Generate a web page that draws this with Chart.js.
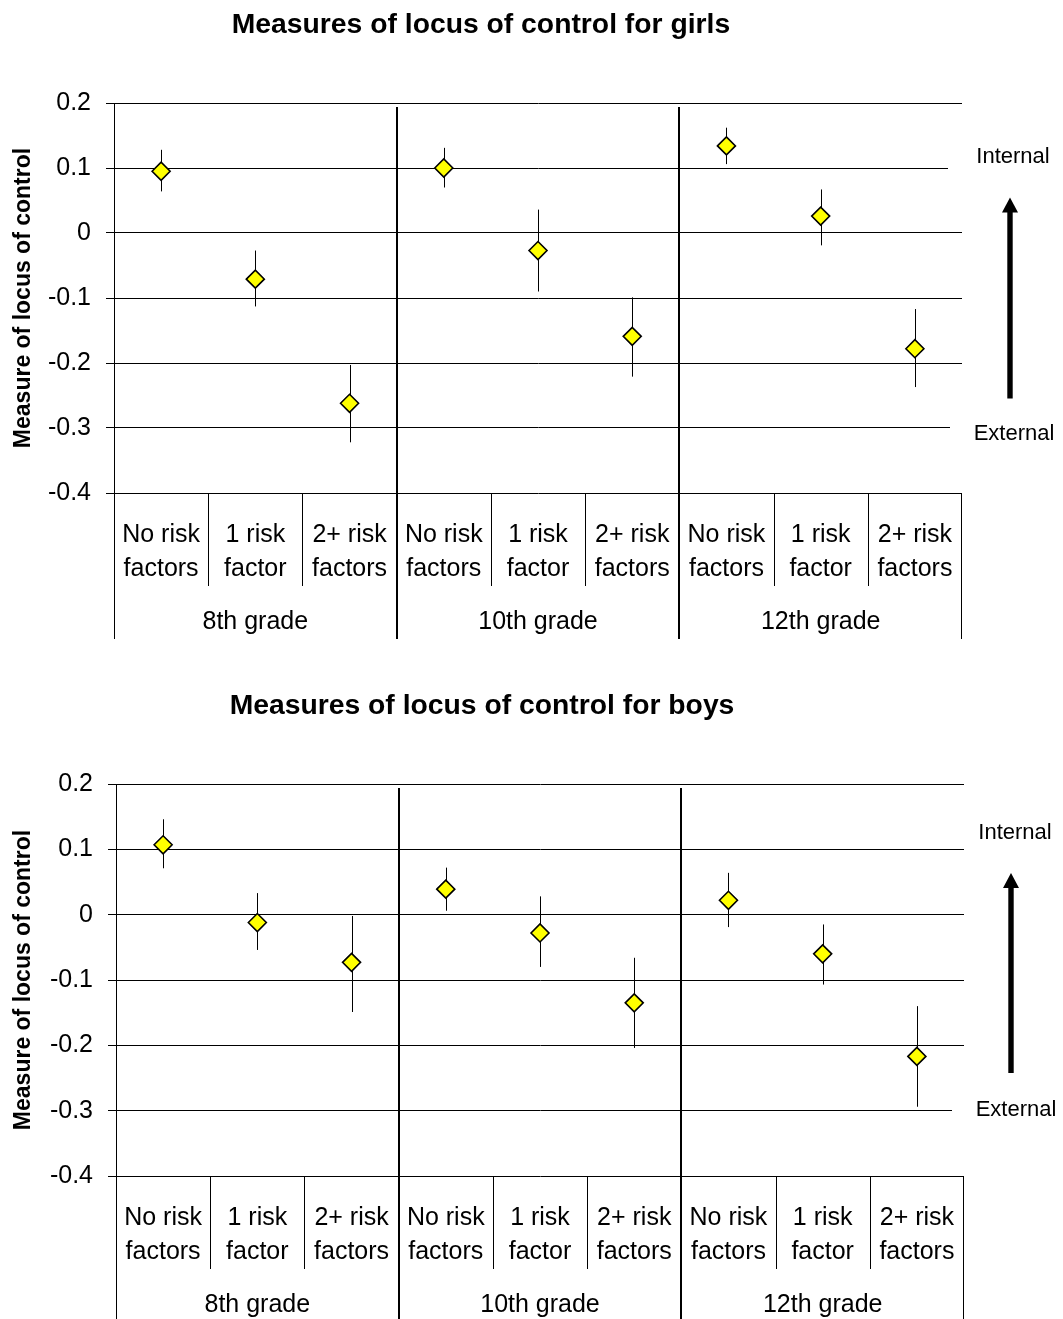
<!DOCTYPE html>
<html><head><meta charset="utf-8">
<script src="https://cdn.jsdelivr.net/npm/chart.js@4"></script>
<style>
html,body{margin:0;padding:0;background:#fff;}
.wrap{position:absolute;left:0;width:1063px;}
</style></head><body>
<div class="wrap" style="top:0;height:681px;"><canvas id="c1" width="1063" height="681"></canvas></div>
<div class="wrap" style="top:681px;height:638px;"><canvas id="c2" width="1063" height="638"></canvas></div>
<script>
const categories = [
  ['No risk','factors'],['1 risk','factor'],['2+ risk','factors'],
  ['No risk','factors'],['1 risk','factor'],['2+ risk','factors'],
  ['No risk','factors'],['1 risk','factor'],['2+ risk','factors']
];
const grades = ['8th grade','10th grade','12th grade'];
const girlsValues = [0.095,-0.071,-0.262, 0.100,-0.027,-0.159, 0.134,0.026,-0.178];
const girlsLower  = [0.064,-0.113,-0.322, 0.070,-0.090,-0.221, 0.106,-0.019,-0.237];
const girlsUpper  = [0.128,-0.027,-0.203, 0.131,0.036,-0.099, 0.162,0.067,-0.117];
const boysValues  = [0.107,-0.012,-0.073, 0.039,-0.028,-0.135, 0.022,-0.060,-0.217];
const boysLower   = [0.071,-0.054,-0.149, 0.006,-0.080,-0.204, -0.019,-0.107,-0.294];
const boysUpper   = [0.146,0.033,-0.002, 0.072,0.028,-0.066, 0.064,-0.015,-0.140];
const yMin = -0.4, yMax = 0.2, yStep = 0.1;
const yTitle = 'Measure of locus of control';
const dirLabels = ['Internal','External'];

const FONT = '"Liberation Sans", Arial, Helvetica, sans-serif';
Chart.defaults.font.family = FONT;
Chart.defaults.color = '#000';

function makeChart(id, H, title, values, lower, upper, g) {
  const errorBars = {
    id: 'errorBars',
    beforeDatasetsDraw(chart) {
      const {ctx, scales:{x, y}} = chart;
      ctx.save();
      ctx.strokeStyle = '#000';
      ctx.lineWidth = 1;
      for (let i = 0; i < values.length; i++) {
        const px = Math.round(x.getPixelForValue(i)) + 0.5;
        ctx.beginPath();
        ctx.moveTo(px, y.getPixelForValue(upper[i]));
        ctx.lineTo(px, y.getPixelForValue(lower[i]));
        ctx.stroke();
      }
      ctx.restore();
    }
  };
  const decor = {
    id: 'decor',
    afterDraw(chart) {
      const {ctx, chartArea: ca, scales:{x}} = chart;
      const n = categories.length;
      const step = x.getPixelForValue(1) - x.getPixelForValue(0);
      const x0 = x.getPixelForValue(0) - step / 2;
      const groupEnd = ca.bottom + 146;
      const minorEnd = ca.bottom + 93;
      ctx.save();
      ctx.strokeStyle = '#000';
      for (let i = 0; i <= n; i++) {
        const bx = x0 + i * step;
        ctx.beginPath();
        if (i === 0) {
          ctx.lineWidth = 1;
          const px = Math.round(bx) + 0.5;
          ctx.moveTo(px, ca.top); ctx.lineTo(px, groupEnd);
        } else if (i === n) {
          ctx.lineWidth = 1;
          const px = Math.round(bx) - 0.5;
          ctx.moveTo(px, ca.bottom); ctx.lineTo(px, groupEnd);
        } else if (i % 3 === 0) {
          ctx.lineWidth = 2;
          const px = Math.round(bx);
          ctx.moveTo(px, ca.top + 4); ctx.lineTo(px, groupEnd);
        } else {
          ctx.lineWidth = 1;
          const px = Math.round(bx) + 0.5;
          ctx.moveTo(px, ca.bottom); ctx.lineTo(px, minorEnd);
        }
        ctx.stroke();
      }
      // direction labels with white boxes
      ctx.font = '22px ' + FONT;
      ctx.textAlign = 'center';
      ctx.textBaseline = 'middle';
      const lx = ca.right + 51;
      ctx.fillStyle = '#fff';
      ctx.fillRect(ca.right - 14, ca.top + g.intY - 16, 1063, 32);
      ctx.fillRect(ca.right - 12, ca.top + g.extY - 16, 1063, 32);
      ctx.fillStyle = '#000';
      ctx.fillText(dirLabels[0], lx, ca.top + g.intY);
      ctx.fillText(dirLabels[1], lx + 1, ca.top + g.extY);
      // arrow
      const ax = ca.right + g.arrowX;
      const tip = ca.top + g.arrowTip, base = tip + 15, bottom = ca.top + g.arrowBottom;
      ctx.fillRect(ax - 2.7, base - 1, 5.4, bottom - base + 1);
      ctx.beginPath();
      ctx.moveTo(ax, tip);
      ctx.lineTo(ax + 8, base);
      ctx.lineTo(ax - 8, base);
      ctx.closePath();
      ctx.fill();
      ctx.restore();
    }
  };

  return new Chart(document.getElementById(id), {
    type: 'line',
    data: {
      labels: categories,
      datasets: [{
        data: values,
        showLine: false,
        pointStyle: 'rectRot',
        pointRadius: 9,
        pointHoverRadius: 9,
        pointBackgroundColor: '#FFFF00',
        pointBorderColor: '#000',
        pointBorderWidth: 1.6,
        xAxisID: 'x',
        yAxisID: 'y'
      }]
    },
    options: {
      responsive: false,
      animation: false,
      devicePixelRatio: 1,
      layout: { padding: { left: 0, top: 0, right: 1063 - g.right, bottom: H - g.bottom - 143 } },
      plugins: {
        legend: { display: false },
        tooltip: { enabled: false },
        title: {
          display: true, text: title, color: '#000',
          font: { size: 28.3, weight: 'bold', lineHeight: 1.2 },
          padding: { top: 8, bottom: g.top - 8 - 28.3 * 1.2 }
        }
      },
      scales: {
        x: {
          type: 'category', labels: categories, offset: true, position: 'bottom', weight: 0,
          grid: { display: false, drawTicks: false, tickLength: 0 }, border: { display: false },
          ticks: { font: { size: 25, lineHeight: 1.36 }, color: '#000', padding: 25, maxRotation: 0, minRotation: 0, autoSkip: false },
          afterFit: s => { s.height = 98; }
        },
        x2: {
          type: 'category', labels: grades, offset: true, position: 'bottom', weight: 1,
          grid: { display: false, drawTicks: false, tickLength: 0 }, border: { display: false },
          ticks: { font: { size: 25, lineHeight: 1.2 }, color: '#000', padding: 16, maxRotation: 0, minRotation: 0, autoSkip: false },
          afterFit: s => { s.height = 45; }
        },
        y: {
          min: yMin, max: yMax,
          ticks: {
            stepSize: yStep, color: '#000', font: { size: 25 }, padding: 15,
            callback: v => { const r = Math.round(v * 10) / 10; return r === 0 ? '0' : String(r); }
          },
          grid: { color: '#000', lineWidth: 1, drawTicks: true, tickLength: 8, tickColor: '#000' },
          border: { display: true, color: '#000', width: 1 },
          title: { display: true, text: yTitle, color: '#000', font: { size: 23, weight: 'bold' }, padding: { top: 10, bottom: 0 } },
          afterFit: s => { s.width = g.left; }
        }
      }
    },
    plugins: [errorBars, decor]
  });
}

makeChart('c1', 681, 'Measures of locus of control for girls', girlsValues, girlsLower, girlsUpper,
  { left: 114, right: 962, top: 103, bottom: 493, intY: 54, extY: 331, arrowX: 48, arrowTip: 94.5, arrowBottom: 295.5 });
makeChart('c2', 638, 'Measures of locus of control for boys', boysValues, boysLower, boysUpper,
  { left: 116, right: 964, top: 103, bottom: 495, intY: 49, extY: 326, arrowX: 47, arrowTip: 89, arrowBottom: 289 });
</script>
</body></html>
